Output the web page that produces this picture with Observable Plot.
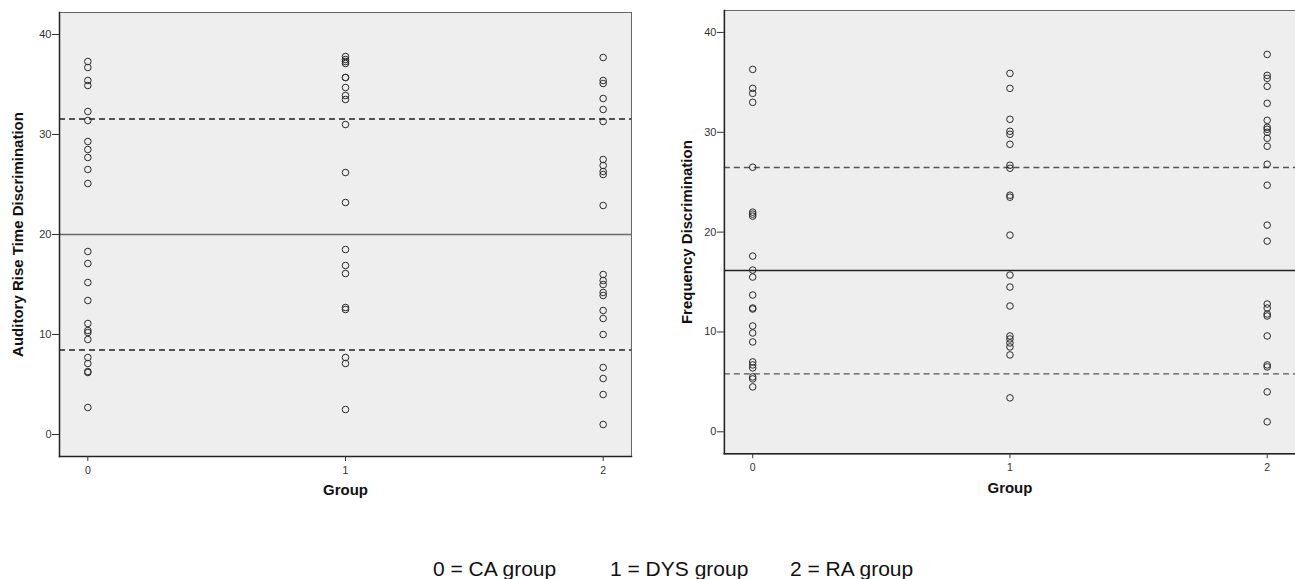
<!DOCTYPE html>
<html>
<head>
<meta charset="utf-8">
<script src="https://cdn.jsdelivr.net/npm/d3@7"></script>
<script src="https://cdn.jsdelivr.net/npm/@observablehq/plot@0.6"></script>
<style>
  html, body { margin: 0; padding: 0; background: #fff; overflow: hidden; }
  #wrap { position: relative; width: 1295px; height: 579px; font-family: "Liberation Sans", Arial, sans-serif; }
  #left { position: absolute; left: 0; top: 0; }
  #right { position: absolute; left: 660px; top: 0; }
  .cap { position: absolute; top: 558px; font-size: 21px; line-height: 21px; color: #111; white-space: nowrap; }
</style>
</head>
<body>
<div id="wrap">
  <div id="left"></div>
  <div id="right"></div>
  <span class="cap" style="left:433px">0 = CA group</span>
  <span class="cap" style="left:610px">1 = DYS group</span>
  <span class="cap" style="left:790px">2 = RA group</span>
</div>
<script>
// ---- data ----
const groups = [0, 1, 2];
const yTicks = [0, 10, 20, 30, 40];

// Auditory Rise Time Discrimination
const artGroup0 = [37.3, 36.7, 35.4, 34.9, 32.3, 31.4, 29.3, 28.5, 27.7, 26.5, 25.1, 18.3, 17.1, 15.2, 13.4, 11.1, 10.4, 10.2, 9.5, 7.7, 7.1, 6.3, 6.2, 2.7];
const artGroup1 = [37.8, 37.5, 37.3, 37.1, 35.7, 35.7, 34.7, 33.9, 33.5, 31.0, 26.2, 23.2, 18.5, 16.9, 16.1, 12.7, 12.5, 7.7, 7.1, 2.5];
const artGroup2 = [37.7, 35.4, 35.1, 33.6, 32.5, 31.3, 27.5, 26.9, 26.3, 26.0, 22.9, 16.0, 15.4, 15.0, 14.2, 13.9, 12.4, 11.6, 10.0, 6.7, 5.6, 4.0, 1.0];
const artMean = 20;
const artCutoffs = [31.55, 8.45];

// Frequency Discrimination
const fdGroup0 = [36.3, 34.4, 33.9, 33.0, 26.5, 22.0, 21.8, 21.6, 17.6, 16.2, 15.5, 13.7, 12.4, 12.3, 10.6, 9.9, 9.0, 7.0, 6.7, 6.4, 5.5, 5.3, 4.5];
const fdGroup1 = [35.9, 34.4, 31.3, 30.1, 29.8, 28.8, 26.7, 26.4, 23.7, 23.5, 19.7, 15.7, 14.5, 12.6, 9.6, 9.3, 8.9, 8.5, 7.7, 3.4];
const fdGroup2 = [37.8, 35.7, 35.4, 34.6, 32.9, 31.2, 30.5, 30.3, 30.0, 29.4, 28.6, 26.8, 24.7, 20.7, 19.1, 12.8, 12.4, 11.8, 11.6, 9.6, 6.7, 6.5, 4.0, 1.0];
const fdMean = 16.15;
const fdCutoffs = [26.48, 5.8];

const artLabel = "Auditory Rise Time Discrimination";
const fdLabel = "Frequency Discrimination";
const xLabel = "Group";

function toRows(series) {
  const rows = [];
  series.forEach((vals, i) => vals.forEach(v => rows.push({g: groups[i], v})));
  return rows;
}

function panel({rows, mean, cutoffs, yLabel, width, marginLeft, marginRight, marginTop, marginBottom, labelDx, meanColor, dashColor}) {
  return Plot.plot({
    width, height: 500,
    marginLeft, marginRight, marginTop, marginBottom,
    style: {fontFamily: "'Liberation Sans', Arial, sans-serif", background: "transparent", overflow: "visible"},
    x: {domain: [-0.11, 2.11], axis: null},
    y: {domain: [-2.2, 42.2], axis: null},
    marks: [
      Plot.frame({fill: "#eeeeee", stroke: "#666", strokeWidth: 1}),
      Plot.ruleY([mean], {stroke: meanColor, strokeWidth: 1.4}),
      Plot.ruleY(cutoffs, {stroke: dashColor, strokeWidth: 1.4, strokeDasharray: "6,4"}),
      Plot.dot(rows, {x: "g", y: "v", r: 3.3, stroke: "#2a2a2a", fill: "none", strokeWidth: 1}),
      Plot.frame({anchor: "left", stroke: "#222", strokeWidth: 1.5}),
      Plot.frame({anchor: "bottom", stroke: "#222", strokeWidth: 1.5}),
      Plot.axisY({ticks: yTicks, tickSize: 7, tickPadding: 1, fontSize: 11, fill: "#333", stroke: "#333", label: null}),
      Plot.axisX({ticks: groups, tickSize: 5, tickPadding: 5, fontSize: 10.5, fill: "#333", stroke: "#333", tickFormat: d => String(d), label: null}),
      Plot.text([yLabel], {frameAnchor: "left", rotate: -90, dx: labelDx, textAnchor: "middle", lineAnchor: "middle", fontSize: 15, fontWeight: "bold", fill: "#111"}),
      Plot.text([xLabel], {frameAnchor: "bottom", dy: 34, textAnchor: "middle", lineAnchor: "middle", fontSize: 15, fontWeight: "bold", fill: "#111"})
    ]
  });
}

document.getElementById("left").appendChild(panel({
  rows: toRows([artGroup0, artGroup1, artGroup2]),
  mean: artMean, cutoffs: artCutoffs, yLabel: artLabel,
  width: 645, marginLeft: 59, marginRight: 14, marginTop: 12, marginBottom: 44,
  labelDx: -41, meanColor: "#6a6a6a", dashColor: "#222"
}));

document.getElementById("right").appendChild(panel({
  rows: toRows([fdGroup0, fdGroup1, fdGroup2]),
  mean: fdMean, cutoffs: fdCutoffs, yLabel: fdLabel,
  width: 636, marginLeft: 64, marginRight: 0, marginTop: 10, marginBottom: 46,
  labelDx: -37.5, meanColor: "#222", dashColor: "#555"
}));
</script>
</body>
</html>
